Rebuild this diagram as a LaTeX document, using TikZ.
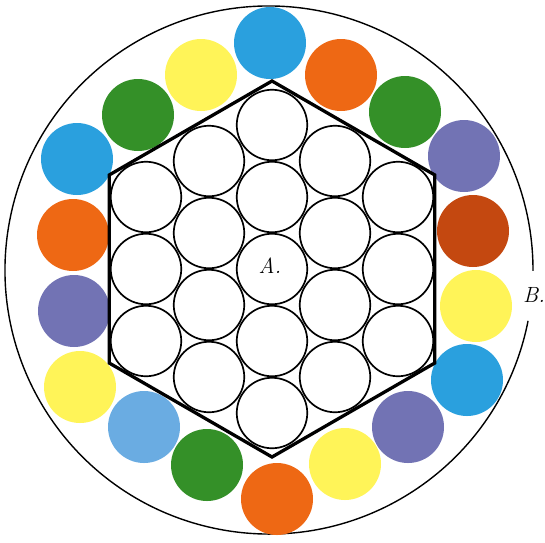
\documentclass[tikz,border=0pt]{standalone}
\definecolor{cblue}{RGB}{42,160,222}
\definecolor{corange}{RGB}{238,104,20}
\definecolor{cgreen}{RGB}{52,144,40}
\definecolor{cpurple}{RGB}{114,115,180}
\definecolor{crust}{RGB}{196,72,16}
\definecolor{cyellow}{RGB}{255,244,88}
\definecolor{clblue}{RGB}{106,172,226}
\tikzset{
  dot/.style={circle, draw=none, minimum size=72pt, inner sep=0pt},
  cell/.style={circle, draw=black, line width=1.7pt, minimum size=70.5pt, inner sep=0pt, fill=white},
  hexline/.style={draw=black, line width=3.3pt, line join=miter},
  ring/.style={draw=black, line width=1.4pt},
  lbl/.style={font=\fontsize{22}{26}\selectfont\itshape, inner sep=0pt}
}
\begin{document}
\begin{tikzpicture}[x=1pt,y=-1pt]
\useasboundingbox (0,0) rectangle (545,542);
% outer ring with gap at the right
\coordinate (oc) at (269,270);
\draw[ring] (oc) ++(11.1:264) arc[start angle=11.1, end angle=360.2, radius=264];
% coloured circles
\node[dot, fill=cblue]   (c1)  at (270,43)  {};
\node[dot, fill=corange] (c2)  at (341,75)  {};
\node[dot, fill=cgreen]  (c3)  at (405,112) {};
\node[dot, fill=cpurple] (c4)  at (464,156) {};
\node[dot, fill=crust]   (c5)  at (473,231) {};
\node[dot, fill=cyellow] (c6)  at (476,306) {};
\node[dot, fill=cblue]   (c7)  at (467,380) {};
\node[dot, fill=cpurple] (c8)  at (408,427) {};
\node[dot, fill=cyellow] (c9)  at (345,464) {};
\node[dot, fill=corange] (c10) at (277,499) {};
\node[dot, fill=cgreen]  (c11) at (207,465) {};
\node[dot, fill=clblue]  (c12) at (144,427) {};
\node[dot, fill=cyellow] (c13) at (80,387)  {};
\node[dot, fill=cpurple] (c14) at (74,311)  {};
\node[dot, fill=corange] (c15) at (73,235)  {};
\node[dot, fill=cblue]   (c16) at (77,159)  {};
\node[dot, fill=cgreen]  (c17) at (138,115) {};
\node[dot, fill=cyellow] (c18) at (201,75)  {};
% hexagon
\coordinate (hc) at (272,269);
\draw[hexline] ([shift={(30:188)}]hc) -- ([shift={(90:188)}]hc) -- ([shift={(150:188)}]hc)
  -- ([shift={(210:188)}]hc) -- ([shift={(270:188)}]hc) -- ([shift={(330:188)}]hc) -- cycle;
% inner circles
\foreach \i/\dx/\dy in {a1/-126/-72, a2/-126/0, a3/-126/72,
  b1/-63/-108, b2/-63/-36, b3/-63/36, b4/-63/108,
  m1/0/-144, m2/0/-72, m3/0/0, m4/0/72, m5/0/144,
  d1/63/-108, d2/63/-36, d3/63/36, d4/63/108,
  e1/126/-72, e2/126/0, e3/126/72}
  \node[cell] (\i) at ([shift={(\dx,\dy)}]hc) {};
\node[lbl] (la) at (270,266) {A.};
\node[lbl, anchor=west] (lb) at (523,295) {B.};
\end{tikzpicture}
\end{document}
